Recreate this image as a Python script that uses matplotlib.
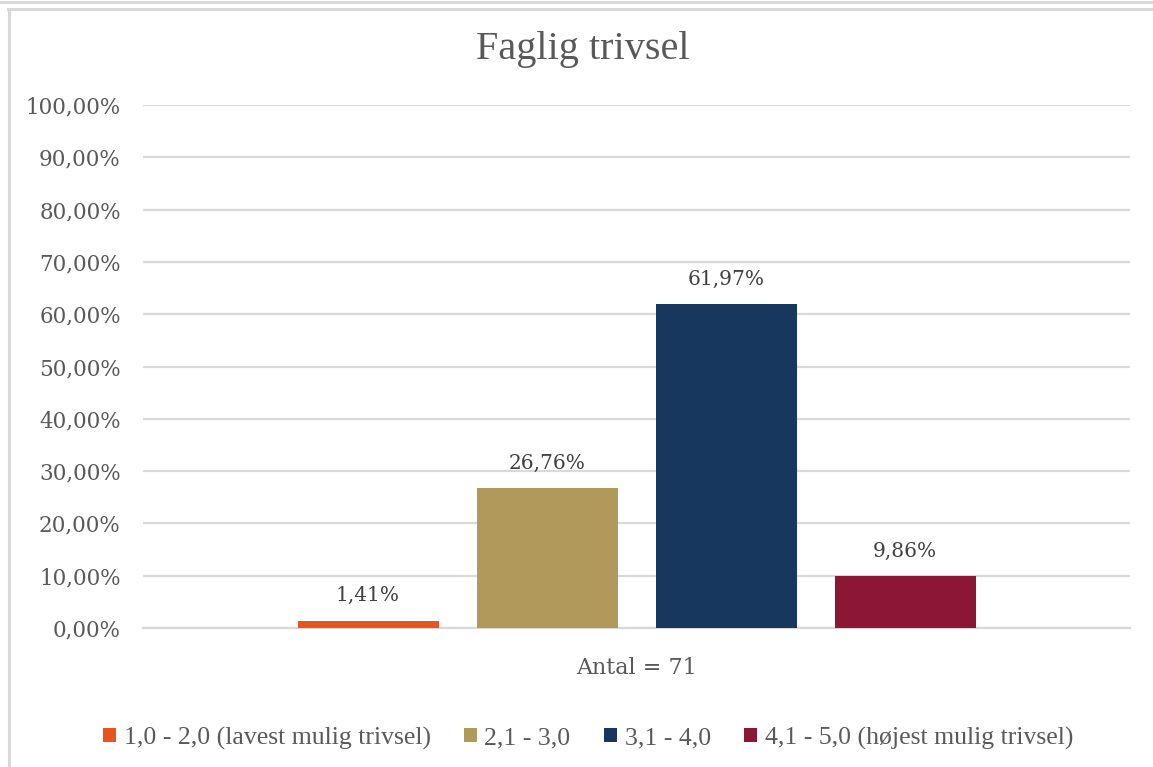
import numpy as np
import matplotlib.pyplot as plt
from matplotlib.lines import Line2D
from matplotlib.ticker import FuncFormatter

# data
categories = ['1,0 - 2,0 (lavest mulig trivsel)', '2,1 - 3,0', '3,1 - 4,0',
              '4,1 - 5,0 (højest mulig trivsel)']
values = [1.41, 26.76, 61.97, 9.86]
colors = ['#E8541E', '#B0995A', '#17375E', '#8B1734']
group_label = 'Antal = 71'

W, H = 1153, 767
fig = plt.figure(figsize=(W / 100, H / 100), dpi=100)

# chart frame like the spreadsheet export
fig.add_artist(Line2D([0, 1], [1 - 1.5 / H] * 2, color='#D9D9D9', lw=2.2))
fig.add_artist(Line2D([8 / W, 1], [1 - 8.5 / H] * 2, color='#D9D9D9', lw=2.2))
fig.add_artist(Line2D([8.5 / W] * 2, [0, 1 - 8.5 / H], color='#D9D9D9', lw=2.2))

ax = fig.add_axes([143 / W, 1 - 628 / H, (1130 - 143) / W, (628 - 105) / H])

step = 179 / 987
width = 141 / 987
offsets = (np.arange(len(values)) - 1.5) * step
for off, v, c, lab in zip(offsets, values, colors, categories):
    ax.bar(off, v, width=width, color=c, label=lab, zorder=3)
    ax.annotate(('%.2f%%' % v).replace('.', ','), (off, v), xytext=(0, 11),
                textcoords='offset points', ha='center', va='bottom',
                fontsize=14.5, family='DejaVu Serif', color='#404040')

ax.set_xlim(-0.5, 0.5)
ax.set_ylim(0, 100)
ax.set_yticks(np.arange(0, 101, 10))
ax.yaxis.set_major_formatter(FuncFormatter(lambda y, p: ('%.2f%%' % y).replace('.', ',')))
ax.grid(axis='y', color='#D9D9D9', lw=1.6, zorder=0)
ax.set_xticks([0])
ax.set_xticklabels([group_label], fontsize=16, family='DejaVu Serif', color='#595959')
ax.tick_params(axis='x', length=0, pad=21)
ax.tick_params(axis='y', length=0, pad=16, labelsize=15.5, labelcolor='#595959')
for lbl in ax.get_yticklabels():
    lbl.set_family('DejaVu Serif')
for s in ax.spines.values():
    s.set_visible(False)
ax.spines['bottom'].set_visible(True)
ax.spines['bottom'].set_color('#D9D9D9')
ax.spines['bottom'].set_linewidth(1.6)

fig.text(583 / W, 1 - 50 / H, 'Faglig trivsel', ha='center', va='center',
         fontsize=29, family='Liberation Serif', color='#595959')

leg = fig.legend(loc='center', bbox_to_anchor=(588 / W, 1 - 738 / H), ncol=4,
                 frameon=False, handlelength=0.5, handleheight=0.5,
                 handletextpad=0.3, columnspacing=1.3,
                 prop={'family': 'Liberation Serif', 'size': 18.5})
for t in leg.get_texts():
    t.set_color('#595959')

fig.savefig('out.png', dpi=100)
